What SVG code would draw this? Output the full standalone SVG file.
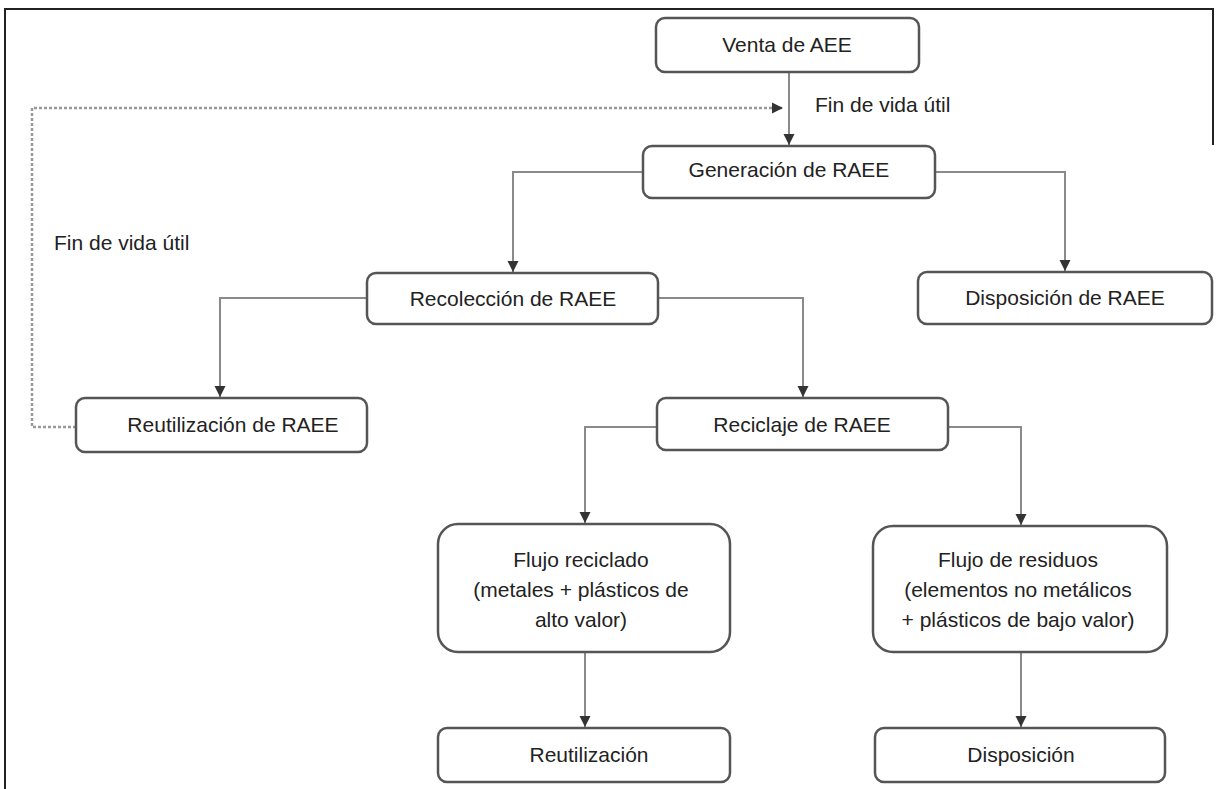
<svg xmlns="http://www.w3.org/2000/svg" width="1217" height="789" viewBox="0 0 1217 789">
<defs>
<style>
.box{fill:#fff;stroke:#555;stroke-width:2.5}
.t{font-family:"Liberation Sans",Arial,sans-serif;font-size:21px;fill:#222;text-anchor:middle}
.ts{font-family:"Liberation Sans",Arial,sans-serif;font-size:21px;fill:#222}
.c{fill:none;stroke:#8a8a8a;stroke-width:2}
.d{fill:none;stroke:#999;stroke-width:2.5;stroke-dasharray:3 2}
</style>
<marker id="ah" markerUnits="userSpaceOnUse" markerWidth="12" markerHeight="12" refX="11" refY="6" orient="auto">
<path d="M0,0.5 L11,6 L0,11.5 z" fill="#333"/>
</marker>
</defs>
<rect width="1217" height="789" fill="#fff"/>
<g id="frame" stroke="#222" stroke-width="2" fill="none">
<path d="M5,789 V9 H1213 V145"/>
</g>
<g id="connectors">
<path class="c" d="M789,72 V145" marker-end="url(#ah)"/>
<path class="c" d="M643,172 H513 V272" marker-end="url(#ah)"/>
<path class="c" d="M935,172 H1065 V271" marker-end="url(#ah)"/>
<path class="c" d="M367,298 H220 V397" marker-end="url(#ah)"/>
<path class="c" d="M658,298 H803 V397" marker-end="url(#ah)"/>
<path class="c" d="M657,427 H585 V523" marker-end="url(#ah)"/>
<path class="c" d="M948,427 H1021 V525" marker-end="url(#ah)"/>
<path class="c" d="M585,652 V727" marker-end="url(#ah)"/>
<path class="c" d="M1021,652 V727" marker-end="url(#ah)"/>
<path class="d" d="M76,427 H32 V108 H783" marker-end="url(#ah)"/>
<text class="ts" x="815" y="112">Fin de vida útil</text>
<text class="ts" x="54" y="250">Fin de vida útil</text>
</g>
<g id="venta"><rect class="box" x="656" y="18" width="263" height="54" rx="9"/><text class="t" x="787" y="52">Venta de AEE</text></g>
<g id="generacion"><rect class="box" x="643" y="146" width="292" height="52" rx="9"/><text class="t" x="789" y="177">Generación de RAEE</text></g>
<g id="recoleccion"><rect class="box" x="367" y="273" width="291" height="51" rx="9"/><text class="t" x="513" y="306">Recolección de RAEE</text></g>
<g id="disposicion-raee"><rect class="box" x="918" y="272" width="294" height="52" rx="9"/><text class="t" x="1065" y="305">Disposición de RAEE</text></g>
<g id="reutilizacion-raee"><rect class="box" x="76" y="398" width="291" height="54" rx="9"/><text class="t" x="233" y="432">Reutilización de RAEE</text></g>
<g id="reciclaje"><rect class="box" x="657" y="398" width="291" height="52" rx="9"/><text class="t" x="802" y="432">Reciclaje de RAEE</text></g>
<g id="flujo-reciclado"><rect class="box" x="438" y="524" width="292" height="128" rx="20"/><text class="t" x="581" y="567">Flujo reciclado</text><text class="t" x="581" y="597">(metales + plásticos de</text><text class="t" x="581" y="627">alto valor)</text></g>
<g id="flujo-residuos"><rect class="box" x="873" y="526" width="294" height="126" rx="20"/><text class="t" x="1018" y="567">Flujo de residuos</text><text class="t" x="1018" y="597">(elementos no metálicos</text><text class="t" x="1018" y="627">+ plásticos de bajo valor)</text></g>
<g id="reutilizacion"><rect class="box" x="438" y="728" width="292" height="54" rx="9"/><text class="t" x="589" y="762">Reutilización</text></g>
<g id="disposicion"><rect class="box" x="875" y="728" width="290" height="54" rx="9"/><text class="t" x="1021" y="762">Disposición</text></g>
</svg>
